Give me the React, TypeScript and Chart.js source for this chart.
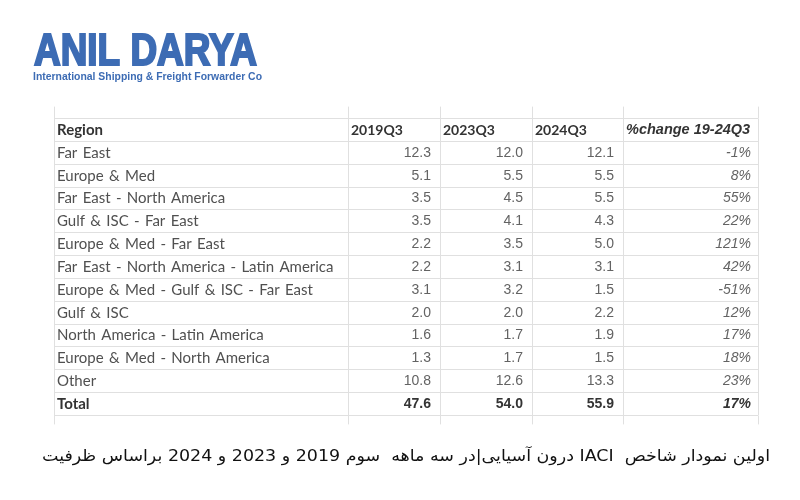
import { useEffect, useRef } from "react";
import { Chart, registerables } from "chart.js";
Chart.register(...registerables);

const headers = ["Region", "2019Q3", "2023Q3", "2024Q3", "%change 19-24Q3"];
const regions = [
  "Far East",
  "Europe & Med",
  "Far East - North America",
  "Gulf & ISC - Far East",
  "Europe & Med - Far East",
  "Far East - North America - Latin America",
  "Europe & Med - Gulf & ISC - Far East",
  "Gulf & ISC",
  "North America - Latin America",
  "Europe & Med - North America",
  "Other",
];
const values2019 = [12.3, 5.1, 3.5, 3.5, 2.2, 2.2, 3.1, 2.0, 1.6, 1.3, 10.8];
const values2023 = [12.0, 5.5, 4.5, 4.1, 3.5, 3.1, 3.2, 2.0, 1.7, 1.7, 12.6];
const values2024 = [12.1, 5.5, 5.5, 4.3, 5.0, 3.1, 1.5, 2.2, 1.9, 1.5, 13.3];
const changePct = [-1, 8, 55, 22, 121, 42, -51, 12, 17, 18, 23];
const totalLabel = "Total";
const totals = [47.6, 54.0, 55.9];
const totalChange = 17;
const logoTitle = "ANIL DARYA";
const logoSubtitle = "International Shipping & Freight Forwarder Co";
const caption =
  "اولین نمودار شاخص  IACI درون آسیایی|در سه ماهه  سوم 2019 و 2023 و 2024 براساس ظرفیت";

// layout (not data)
const COL_EDGES = [0, 294, 386, 478, 569, 704];
const ROW_LABELS = [headers[0], ...regions, totalLabel];

const tablePlugin = {
  id: "tablePlugin",
  afterDraw(chart: any) {
    const { ctx, chartArea } = chart;
    const x = chart.scales.x;
    const y = chart.scales.y;
    const ex = (i: number) => x.getPixelForValue(COL_EDGES[i]);
    ctx.save();
    ctx.strokeStyle = "#e0e0e0";
    ctx.lineWidth = 1;
    for (let i = 0; i < COL_EDGES.length; i++) {
      const px = Math.round(ex(i)) + 0.5;
      ctx.beginPath();
      ctx.moveTo(px, chartArea.top - 12);
      ctx.lineTo(px, chartArea.top);
      ctx.moveTo(px, chartArea.bottom);
      ctx.lineTo(px, chartArea.bottom + 9);
      ctx.stroke();
    }
    ctx.textBaseline = "middle";
    const regFont = "15px Lato, 'Noto Sans', sans-serif";
    const boldFont = "bold 15px Lato, 'Noto Sans', sans-serif";
    const numFont = "14px 'Liberation Sans', Arial, sans-serif";
    const numBold = "bold 14px 'Liberation Sans', Arial, sans-serif";
    const pctFont = "italic 14px 'Liberation Sans', Arial, sans-serif";
    const pctBold = "italic bold 14px 'Liberation Sans', Arial, sans-serif";

    // header row
    const hy = y.getPixelForValue(0);
    ctx.fillStyle = "#333333";
    ctx.textAlign = "left";
    headers.forEach((h, i) => {
      ctx.font =
        i === 4
          ? "italic bold 14.5px 'Liberation Sans', Arial, sans-serif"
          : i === 0
          ? boldFont
          : "bold 14px Lato, 'Noto Sans', sans-serif";
      ctx.fillText(h, ex(i) + 3, hy);
    });

    const drawRow = (row: number, label: string, vals: number[], pct: number, bold: boolean) => {
      const py = y.getPixelForValue(row);
      ctx.textAlign = "left";
      ctx.font = bold ? boldFont : regFont;
      ctx.fillStyle = bold ? "#333333" : "#505050";
      (ctx as any).wordSpacing = "1.5px";
      ctx.fillText(label, ex(0) + 3, py);
      (ctx as any).wordSpacing = "0px";
      ctx.textAlign = "right";
      ctx.font = bold ? numBold : numFont;
      ctx.fillStyle = bold ? "#333333" : "#636363";
      vals.forEach((v, c) => {
        ctx.fillText(v.toFixed(1), ex(c + 2) - 9, py);
      });
      ctx.font = bold ? pctBold : pctFont;
      ctx.fillText(`${pct}%`, ex(5) - 7, py);
    };
    regions.forEach((r, i) =>
      drawRow(i + 1, r, [values2019[i], values2023[i], values2024[i]], changePct[i], false)
    );
    drawRow(regions.length + 1, totalLabel, totals, totalChange, true);

    // logo
    ctx.fillStyle = "#3d6cb4";
    ctx.strokeStyle = "#3d6cb4";
    ctx.textAlign = "left";
    ctx.textBaseline = "alphabetic";
    ctx.font = "bold 45px 'Liberation Sans', sans-serif";
    let w = ctx.measureText(logoTitle).width;
    ctx.save();
    ctx.translate(34, 65);
    ctx.scale(223 / w, 1);
    ctx.lineWidth = 2.2;
    ctx.lineJoin = "miter";
    ctx.fillText(logoTitle, 0, 0);
    ctx.strokeText(logoTitle, 0, 0);
    ctx.restore();
    ctx.font = "bold 10.5px 'Liberation Sans', sans-serif";
    w = ctx.measureText(logoSubtitle).width;
    ctx.save();
    ctx.translate(33, 80);
    ctx.scale(229 / w, 1);
    ctx.fillText(logoSubtitle, 0, 0);
    ctx.restore();

    // caption
    ctx.fillStyle = "#111111";
    ctx.font = "16px 'DejaVu Sans', sans-serif";
    ctx.direction = "rtl";
    ctx.textAlign = "right";
    w = ctx.measureText(caption).width;
    ctx.save();
    ctx.translate(770, 461);
    ctx.scale(728 / w, 1);
    ctx.fillText(caption, 0, 0);
    ctx.restore();
    ctx.restore();
  },
};

export default function App() {
  const ref = useRef<HTMLCanvasElement>(null);
  useEffect(() => {
    if (!ref.current) return;
    const chart = new Chart(ref.current, {
      type: "scatter",
      data: { labels: ROW_LABELS, datasets: [] },
      options: {
        responsive: false,
        animation: false,
        layout: { padding: { left: 54, right: 42, top: 118.6, bottom: 84.6 } },
        plugins: { legend: { display: false }, tooltip: { enabled: false } },
        scales: {
          x: {
            type: "linear",
            min: COL_EDGES[0],
            max: COL_EDGES[COL_EDGES.length - 1],
            afterBuildTicks: (s: any) => {
              s.ticks = COL_EDGES.map((v) => ({ value: v }));
            },
            ticks: { display: false },
            grid: { color: "#e0e0e0", drawTicks: false, lineWidth: 1 },
            border: { display: false },
          },
          y: {
            type: "category",
            labels: ROW_LABELS,
            offset: true,
            ticks: { display: false },
            grid: { color: "#e0e0e0", drawTicks: false, offset: true, lineWidth: 1 },
            border: { display: false },
          },
        },
      },
      plugins: [tablePlugin],
    } as any);
    return () => chart.destroy();
  }, []);
  return (
    <div style={{ position: "fixed", left: 0, top: 0, width: 800, height: 500, background: "#fff" }}>
      <canvas ref={ref} width={800} height={500} style={{ width: 800, height: 500 }} />
    </div>
  );
}
